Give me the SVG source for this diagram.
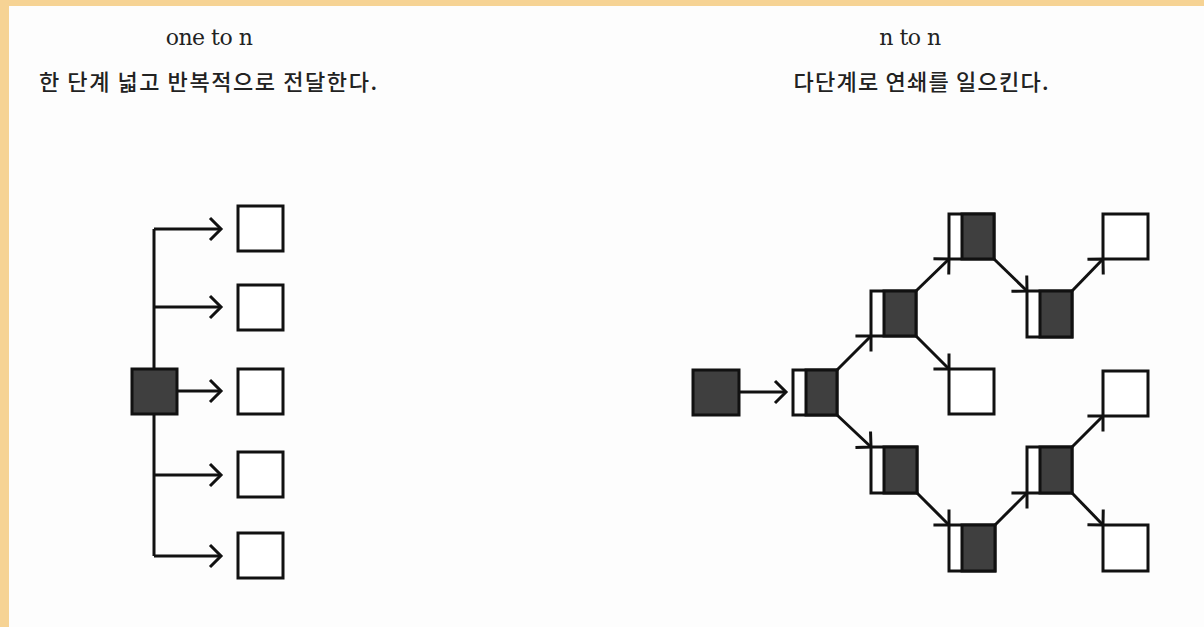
<svg xmlns="http://www.w3.org/2000/svg" width="1204" height="627" viewBox="0 0 1204 627">
<defs>
<style>
.box{fill:#fff;stroke:#111;stroke-width:3}
.dark{fill:#3f3f3f;stroke:#111;stroke-width:3}
.con{fill:none;stroke:#111;stroke-width:3;marker-end:url(#ah)}
.line{fill:none;stroke:#111;stroke-width:3}
.en{font-family:"DejaVu Serif","Liberation Serif",serif;font-size:22px;fill:#222;text-anchor:middle;letter-spacing:-0.5px}
.ko{font-family:"Noto Sans CJK KR",sans-serif;font-size:22px;font-weight:500;fill:#222;text-anchor:middle}
</style>
<marker id="ah" markerUnits="userSpaceOnUse" markerWidth="30" markerHeight="30" viewBox="-20 -15 30 30" refX="0" refY="0" orient="auto">
<path d="M-11,-11 L0,0 L-11,11" fill="none" stroke="#111" stroke-width="3"/>
</marker>
</defs>
<rect x="0" y="0" width="1204" height="627" fill="#F6D394"/>
<rect x="9" y="6" width="1195" height="621" fill="#fdfdfd"/>
<g id="titles">
<text class="en" x="209" y="45">one to n</text>
<text class="ko" x="208" y="90" textLength="338" lengthAdjust="spacing">한 단계 넓고 반복적으로 전달한다.</text>
<text class="en" x="910" y="45">n to n</text>
<text class="ko" x="921" y="90" textLength="255" lengthAdjust="spacing">다단계로 연쇄를 일으킨다.</text>
</g>
<g id="connectors">
<path class="line" d="M154,229 V556"/>
<path class="con" d="M154,229 H221"/>
<path class="con" d="M154,307 H221"/>
<path class="con" d="M177,391 H221"/>
<path class="con" d="M154,475 H221"/>
<path class="con" d="M154,556 H221"/>
<path class="con" d="M740,392 H786"/>
<path class="con" d="M837,370 L871,336"/>
<path class="con" d="M837,415 L871,447"/>
<path class="con" d="M916,291 L949,259"/>
<path class="con" d="M916,336 L949,369"/>
<path class="con" d="M994,259 L1027,291"/>
<path class="con" d="M1072,291 L1103,259"/>
<path class="con" d="M917,493 L949,525"/>
<path class="con" d="M995,525 L1027,493"/>
<path class="con" d="M1072,447 L1103,416"/>
<path class="con" d="M1072,493 L1103,525"/>
</g>
<g id="L-src"><rect class="dark" x="132" y="369" width="45" height="45"/></g>
<g id="L-t1"><rect class="box" x="238" y="206" width="45" height="45"/></g>
<g id="L-t2"><rect class="box" x="238" y="285" width="45" height="45"/></g>
<g id="L-t3"><rect class="box" x="238" y="369" width="45" height="45"/></g>
<g id="L-t4"><rect class="box" x="238" y="452" width="45" height="45"/></g>
<g id="L-t5"><rect class="box" x="238" y="533" width="45" height="45"/></g>
<g id="R-src"><rect class="dark" x="693" y="370" width="46" height="45"/></g>
<g id="R-s1"><rect class="box" x="793" y="370" width="44" height="45"/><rect class="dark" x="806" y="370" width="31" height="45"/></g>
<g id="R-s2"><rect class="box" x="871" y="291" width="45" height="45"/><rect class="dark" x="884" y="291" width="32" height="45"/></g>
<g id="R-s3"><rect class="box" x="949" y="214" width="45" height="45"/><rect class="dark" x="962" y="214" width="32" height="45"/></g>
<g id="R-w1"><rect class="box" x="949" y="369" width="45" height="45"/></g>
<g id="R-s4"><rect class="box" x="1027" y="291" width="45" height="46"/><rect class="dark" x="1040" y="291" width="32" height="46"/></g>
<g id="R-w2"><rect class="box" x="1103" y="214" width="45" height="45"/></g>
<g id="R-s5"><rect class="box" x="871" y="447" width="46" height="46"/><rect class="dark" x="884" y="447" width="33" height="46"/></g>
<g id="R-s6"><rect class="box" x="949" y="525" width="46" height="46"/><rect class="dark" x="962" y="525" width="33" height="46"/></g>
<g id="R-s7"><rect class="box" x="1027" y="447" width="45" height="46"/><rect class="dark" x="1040" y="447" width="32" height="46"/></g>
<g id="R-w3"><rect class="box" x="1103" y="371" width="45" height="45"/></g>
<g id="R-w4"><rect class="box" x="1103" y="525" width="45" height="46"/></g>
</svg>
